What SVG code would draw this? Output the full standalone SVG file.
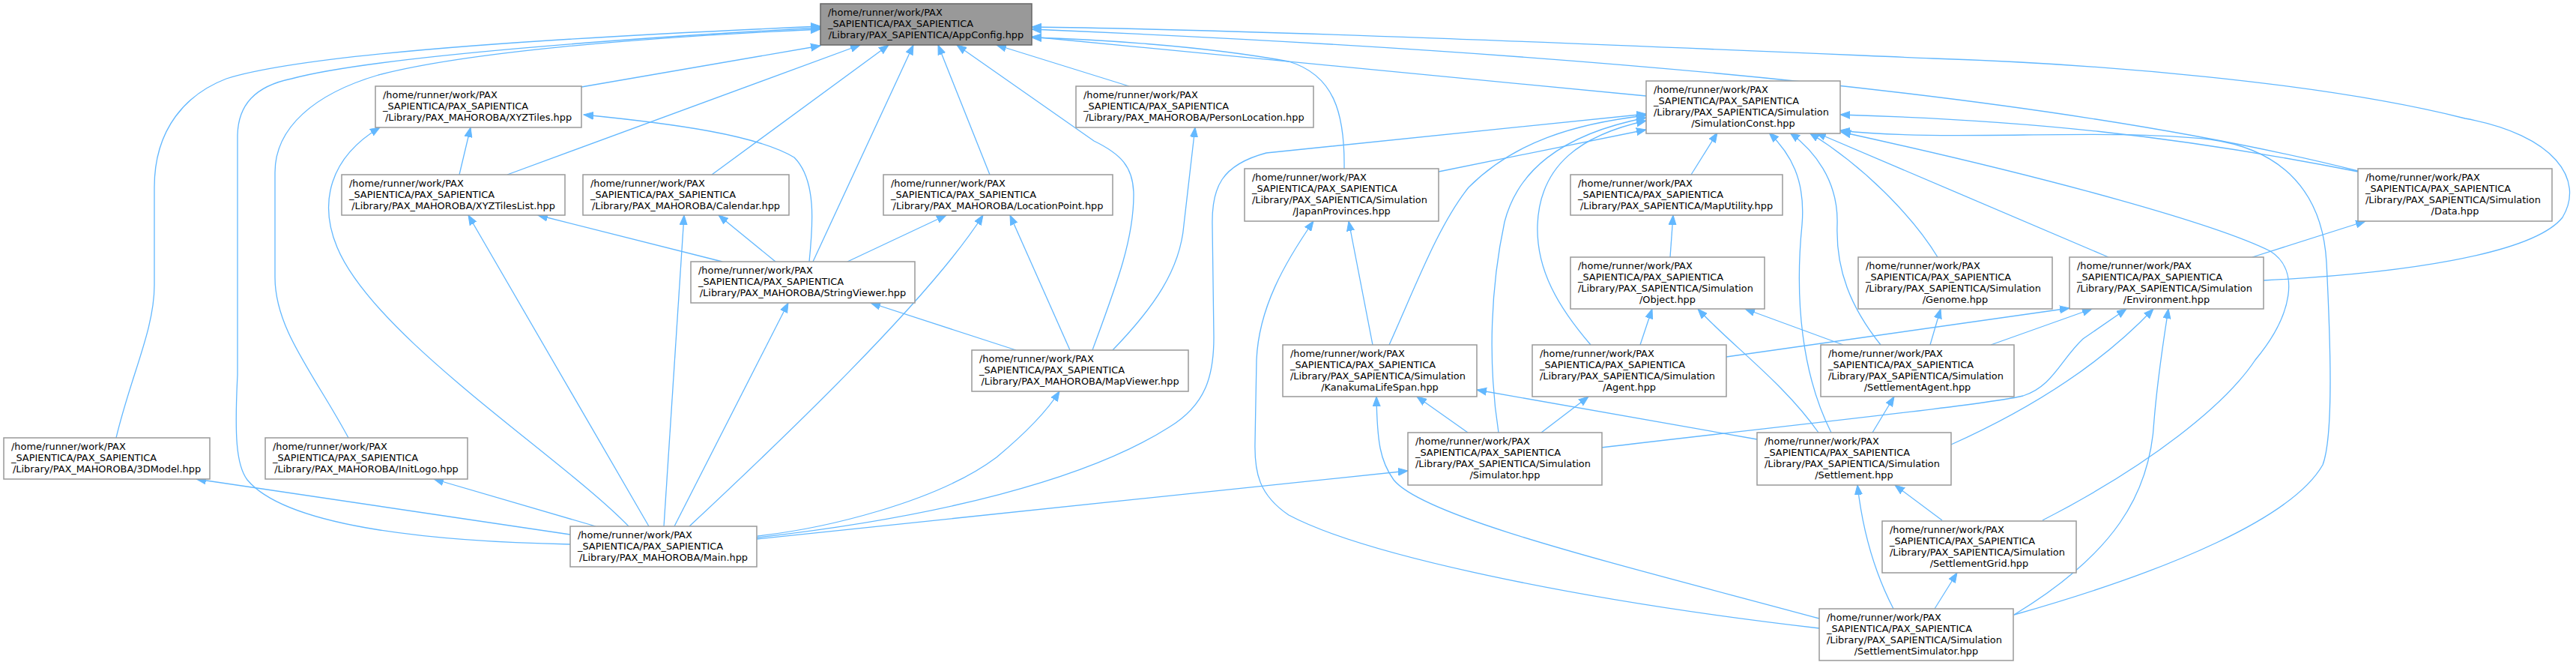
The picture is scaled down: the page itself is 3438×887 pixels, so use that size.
<svg xmlns="http://www.w3.org/2000/svg" width="3438" height="887" viewBox="0 0 3438 887">
<style>
.n rect{fill:#ffffff;stroke:#999999;stroke-width:1.5}
.n.root rect{fill:#999999;stroke:#666666}
.n text{font-family:"DejaVu Sans","Liberation Sans",sans-serif;font-size:12.9px;fill:#000000}
.n text.c{text-anchor:middle}
#edges path{fill:none;stroke:#63b8ff;stroke-width:1.3;marker-end:url(#ah)}
</style>
<defs>
<marker id="ah" markerUnits="userSpaceOnUse" markerWidth="14" markerHeight="11" refX="13" refY="5.5" orient="auto" viewBox="0 0 14 11"><path d="M0,0.5 L13,5.5 L0,10.5 Z" fill="#63b8ff" stroke="#63b8ff" stroke-width="1"/></marker>
</defs>
<rect width="3438" height="887" fill="#ffffff"/>
<g id="edges">
<path d="M155,584 C175,500 206,440 206,380 L206,250 C206,170 250,125 302,105 C420,68 800,48 1095,35"/>
<path d="M465,584 C420,500 367,440 367,370 L367,230 C367,170 420,125 505,100 C620,70 850,50 1095,39"/>
<path d="M761,726 C560,722 380,700 330,640 C315,620 313,580 317,500 L317,180 C318,140 340,115 389,105 C500,75 850,50 1095,37"/>
<path d="M776,116 L1095,61"/>
<path d="M677,233 L1148,60"/>
<path d="M950,233 L1186,60"/>
<path d="M1085,349 L1219,60"/>
<path d="M1321,233 L1252,60"/>
<path d="M1458,467 C1490,380 1513,320 1513,260 C1513,222 1495,205 1460,188 L1277,60"/>
<path d="M1507,115 L1330,60"/>
<path d="M1794,225 C1795,150 1780,100 1720,82 C1600,60 1450,52 1377,50"/>
<path d="M2197,128 L1377,49"/>
<path d="M3147,228 Q2600,90 1377,39"/>
<path d="M3021,374 C3200,365 3380,340 3420,290 C3450,240 3410,180 3290,158 C3100,110 2800,85 2580,78 C2200,62 1700,40 1377,36"/>
<path d="M613,233 L628,170"/>
<path d="M839,702 C750,610 500,450 450,330 C425,270 440,210 507,170"/>
<path d="M1080,349 C1085,300 1090,240 1060,210 C1010,180 900,165 779,153"/>
<path d="M866,702 L625,287"/>
<path d="M964,349 L718,287"/>
<path d="M886,702 L913,287"/>
<path d="M1035,349 L959,287"/>
<path d="M1131,349 L1263,287"/>
<path d="M920,702 C1040,590 1240,400 1312,287"/>
<path d="M1428,467 L1348,287"/>
<path d="M1485,467 C1540,410 1575,360 1580,300 L1595,170"/>
<path d="M900,702 L1052,404"/>
<path d="M1356,467 L1162,404"/>
<path d="M1011,715 C1100,705 1250,670 1330,610 Q1390,560 1414,522"/>
<path d="M1010,717 C1250,690 1450,640 1560,570 C1610,540 1620,500 1620,450 L1618,300 C1617,250 1630,220 1690,204 L2197,152"/>
<path d="M1010,719 L1879,628"/>
<path d="M2428,838 C2100,800 1820,740 1720,687 C1680,660 1674,630 1675,590 L1677,480 C1680,410 1715,350 1753,295"/>
<path d="M2428,825 C2150,750 1900,690 1860,640 C1842,615 1838,590 1837,529"/>
<path d="M1832,460 L1800,295"/>
<path d="M1854,460 C1890,380 1920,300 1960,250 C2020,190 2100,165 2197,154"/>
<path d="M2000,577 C1985,480 1990,380 2008,296 C2025,230 2080,180 2197,157"/>
<path d="M2123,460 C2080,410 2050,360 2052,300 C2055,220 2110,180 2197,161"/>
<path d="M1920,229 L2197,173"/>
<path d="M2257,233 L2292,177"/>
<path d="M2444,577 C2405,500 2395,400 2405,300 C2410,240 2390,205 2361,177"/>
<path d="M2510,460 C2470,410 2450,360 2452,300 C2454,240 2420,200 2389,177"/>
<path d="M2586,343 C2560,300 2500,230 2415,177"/>
<path d="M2814,343 L2424,177"/>
<path d="M2726,694 C2870,620 2970,540 3010,480 C3060,420 3070,360 3030,335 C2960,300 2750,240 2457,176"/>
<path d="M2688,820 C2900,760 3060,690 3100,620 C3115,580 3110,450 3105,350 C3100,260 3050,200 2950,186 C2800,170 2600,190 2456,174"/>
<path d="M3147,229 C2900,180 2700,160 2456,153"/>
<path d="M2229,343 L2233,287"/>
<path d="M3006,343 L3157,295"/>
<path d="M2189,460 L2205,412"/>
<path d="M2460,460 L2329,412"/>
<path d="M2427,577 C2380,510 2310,460 2266,412"/>
<path d="M2576,460 L2590,412"/>
<path d="M2304,476 L2762,411"/>
<path d="M2657,460 L2792,412"/>
<path d="M2137,597 C2400,566 2650,540 2700,528 C2740,515 2750,480 2780,452 L2838,412"/>
<path d="M2604,593 C2700,550 2800,490 2874,412"/>
<path d="M2688,820 C2820,740 2870,660 2875,560 C2880,500 2888,450 2894,412"/>
<path d="M1959,577 L1891,529"/>
<path d="M2345,586 L1971,520"/>
<path d="M2057,577 L2120,529"/>
<path d="M2499,577 L2528,529"/>
<path d="M2592,694 L2529,647"/>
<path d="M2527,812 C2500,760 2485,700 2479,647"/>
<path d="M2582,812 L2612,764"/>
<path d="M761,713 L262,639"/>
<path d="M795,702 L579,639"/>
</g>
<g id="n_appconfig" class="n root"><rect x="1095" y="5" width="282" height="55"/><text x="1105" y="21">/home/runner/work/PAX</text><text x="1105" y="36">_SAPIENTICA/PAX_SAPIENTICA</text><text class="c" x="1236" y="51">/Library/PAX_SAPIENTICA/AppConfig.hpp</text></g>
<g id="n_xyztiles" class="n"><rect x="501" y="115" width="275" height="55"/><text x="511" y="131">/home/runner/work/PAX</text><text x="511" y="146">_SAPIENTICA/PAX_SAPIENTICA</text><text class="c" x="638.5" y="161">/Library/PAX_MAHOROBA/XYZTiles.hpp</text></g>
<g id="n_personlocation" class="n"><rect x="1436" y="115" width="317" height="55"/><text x="1446" y="131">/home/runner/work/PAX</text><text x="1446" y="146">_SAPIENTICA/PAX_SAPIENTICA</text><text class="c" x="1594.5" y="161">/Library/PAX_MAHOROBA/PersonLocation.hpp</text></g>
<g id="n_simulationconst" class="n"><rect x="2197" y="108" width="259" height="70"/><text x="2207" y="124">/home/runner/work/PAX</text><text x="2207" y="139">_SAPIENTICA/PAX_SAPIENTICA</text><text x="2207" y="154">/Library/PAX_SAPIENTICA/Simulation</text><text class="c" x="2326.5" y="169">/SimulationConst.hpp</text></g>
<g id="n_xyztileslist" class="n"><rect x="456" y="233" width="298" height="54"/><text x="466" y="249">/home/runner/work/PAX</text><text x="466" y="264">_SAPIENTICA/PAX_SAPIENTICA</text><text class="c" x="605" y="279">/Library/PAX_MAHOROBA/XYZTilesList.hpp</text></g>
<g id="n_calendar" class="n"><rect x="778" y="233" width="275" height="54"/><text x="788" y="249">/home/runner/work/PAX</text><text x="788" y="264">_SAPIENTICA/PAX_SAPIENTICA</text><text class="c" x="915.5" y="279">/Library/PAX_MAHOROBA/Calendar.hpp</text></g>
<g id="n_locationpoint" class="n"><rect x="1179" y="233" width="306" height="54"/><text x="1189" y="249">/home/runner/work/PAX</text><text x="1189" y="264">_SAPIENTICA/PAX_SAPIENTICA</text><text class="c" x="1332" y="279">/Library/PAX_MAHOROBA/LocationPoint.hpp</text></g>
<g id="n_japanprovinces" class="n"><rect x="1661" y="225" width="259" height="70"/><text x="1671" y="241">/home/runner/work/PAX</text><text x="1671" y="256">_SAPIENTICA/PAX_SAPIENTICA</text><text x="1671" y="271">/Library/PAX_SAPIENTICA/Simulation</text><text class="c" x="1790.5" y="286">/JapanProvinces.hpp</text></g>
<g id="n_maputility" class="n"><rect x="2096" y="233" width="283" height="54"/><text x="2106" y="249">/home/runner/work/PAX</text><text x="2106" y="264">_SAPIENTICA/PAX_SAPIENTICA</text><text class="c" x="2237.5" y="279">/Library/PAX_SAPIENTICA/MapUtility.hpp</text></g>
<g id="n_data" class="n"><rect x="3147" y="225" width="259" height="70"/><text x="3157" y="241">/home/runner/work/PAX</text><text x="3157" y="256">_SAPIENTICA/PAX_SAPIENTICA</text><text x="3157" y="271">/Library/PAX_SAPIENTICA/Simulation</text><text class="c" x="3276.5" y="286">/Data.hpp</text></g>
<g id="n_stringviewer" class="n"><rect x="922" y="349" width="299" height="55"/><text x="932" y="365">/home/runner/work/PAX</text><text x="932" y="380">_SAPIENTICA/PAX_SAPIENTICA</text><text class="c" x="1071.5" y="395">/Library/PAX_MAHOROBA/StringViewer.hpp</text></g>
<g id="n_object" class="n"><rect x="2096" y="343" width="259" height="69"/><text x="2106" y="359">/home/runner/work/PAX</text><text x="2106" y="374">_SAPIENTICA/PAX_SAPIENTICA</text><text x="2106" y="389">/Library/PAX_SAPIENTICA/Simulation</text><text class="c" x="2225.5" y="404">/Object.hpp</text></g>
<g id="n_genome" class="n"><rect x="2480" y="343" width="259" height="69"/><text x="2490" y="359">/home/runner/work/PAX</text><text x="2490" y="374">_SAPIENTICA/PAX_SAPIENTICA</text><text x="2490" y="389">/Library/PAX_SAPIENTICA/Simulation</text><text class="c" x="2609.5" y="404">/Genome.hpp</text></g>
<g id="n_environment" class="n"><rect x="2762" y="343" width="259" height="69"/><text x="2772" y="359">/home/runner/work/PAX</text><text x="2772" y="374">_SAPIENTICA/PAX_SAPIENTICA</text><text x="2772" y="389">/Library/PAX_SAPIENTICA/Simulation</text><text class="c" x="2891.5" y="404">/Environment.hpp</text></g>
<g id="n_mapviewer" class="n"><rect x="1297" y="467" width="289" height="55"/><text x="1307" y="483">/home/runner/work/PAX</text><text x="1307" y="498">_SAPIENTICA/PAX_SAPIENTICA</text><text class="c" x="1441.5" y="513">/Library/PAX_MAHOROBA/MapViewer.hpp</text></g>
<g id="n_kanakumalifespan" class="n"><rect x="1712" y="460" width="259" height="69"/><text x="1722" y="476">/home/runner/work/PAX</text><text x="1722" y="491">_SAPIENTICA/PAX_SAPIENTICA</text><text x="1722" y="506">/Library/PAX_SAPIENTICA/Simulation</text><text class="c" x="1841.5" y="521">/KanakumaLifeSpan.hpp</text></g>
<g id="n_agent" class="n"><rect x="2045" y="460" width="259" height="69"/><text x="2055" y="476">/home/runner/work/PAX</text><text x="2055" y="491">_SAPIENTICA/PAX_SAPIENTICA</text><text x="2055" y="506">/Library/PAX_SAPIENTICA/Simulation</text><text class="c" x="2174.5" y="521">/Agent.hpp</text></g>
<g id="n_settlementagent" class="n"><rect x="2430" y="460" width="258" height="69"/><text x="2440" y="476">/home/runner/work/PAX</text><text x="2440" y="491">_SAPIENTICA/PAX_SAPIENTICA</text><text x="2440" y="506">/Library/PAX_SAPIENTICA/Simulation</text><text class="c" x="2559" y="521">/SettlementAgent.hpp</text></g>
<g id="n_3dmodel" class="n"><rect x="5" y="584" width="275" height="55"/><text x="15" y="600">/home/runner/work/PAX</text><text x="15" y="615">_SAPIENTICA/PAX_SAPIENTICA</text><text class="c" x="142.5" y="630">/Library/PAX_MAHOROBA/3DModel.hpp</text></g>
<g id="n_initlogo" class="n"><rect x="354" y="584" width="270" height="55"/><text x="364" y="600">/home/runner/work/PAX</text><text x="364" y="615">_SAPIENTICA/PAX_SAPIENTICA</text><text class="c" x="489" y="630">/Library/PAX_MAHOROBA/InitLogo.hpp</text></g>
<g id="n_simulator" class="n"><rect x="1879" y="577" width="259" height="70"/><text x="1889" y="593">/home/runner/work/PAX</text><text x="1889" y="608">_SAPIENTICA/PAX_SAPIENTICA</text><text x="1889" y="623">/Library/PAX_SAPIENTICA/Simulation</text><text class="c" x="2008.5" y="638">/Simulator.hpp</text></g>
<g id="n_settlement" class="n"><rect x="2345" y="577" width="259" height="70"/><text x="2355" y="593">/home/runner/work/PAX</text><text x="2355" y="608">_SAPIENTICA/PAX_SAPIENTICA</text><text x="2355" y="623">/Library/PAX_SAPIENTICA/Simulation</text><text class="c" x="2474.5" y="638">/Settlement.hpp</text></g>
<g id="n_main" class="n"><rect x="761" y="702" width="249" height="54"/><text x="771" y="718">/home/runner/work/PAX</text><text x="771" y="733">_SAPIENTICA/PAX_SAPIENTICA</text><text class="c" x="885.5" y="748">/Library/PAX_MAHOROBA/Main.hpp</text></g>
<g id="n_settlementgrid" class="n"><rect x="2512" y="695" width="259" height="69"/><text x="2522" y="711">/home/runner/work/PAX</text><text x="2522" y="726">_SAPIENTICA/PAX_SAPIENTICA</text><text x="2522" y="741">/Library/PAX_SAPIENTICA/Simulation</text><text class="c" x="2641.5" y="756">/SettlementGrid.hpp</text></g>
<g id="n_settlementsimulator" class="n"><rect x="2428" y="812" width="259" height="69"/><text x="2438" y="828">/home/runner/work/PAX</text><text x="2438" y="843">_SAPIENTICA/PAX_SAPIENTICA</text><text x="2438" y="858">/Library/PAX_SAPIENTICA/Simulation</text><text class="c" x="2557.5" y="873">/SettlementSimulator.hpp</text></g>
</svg>
